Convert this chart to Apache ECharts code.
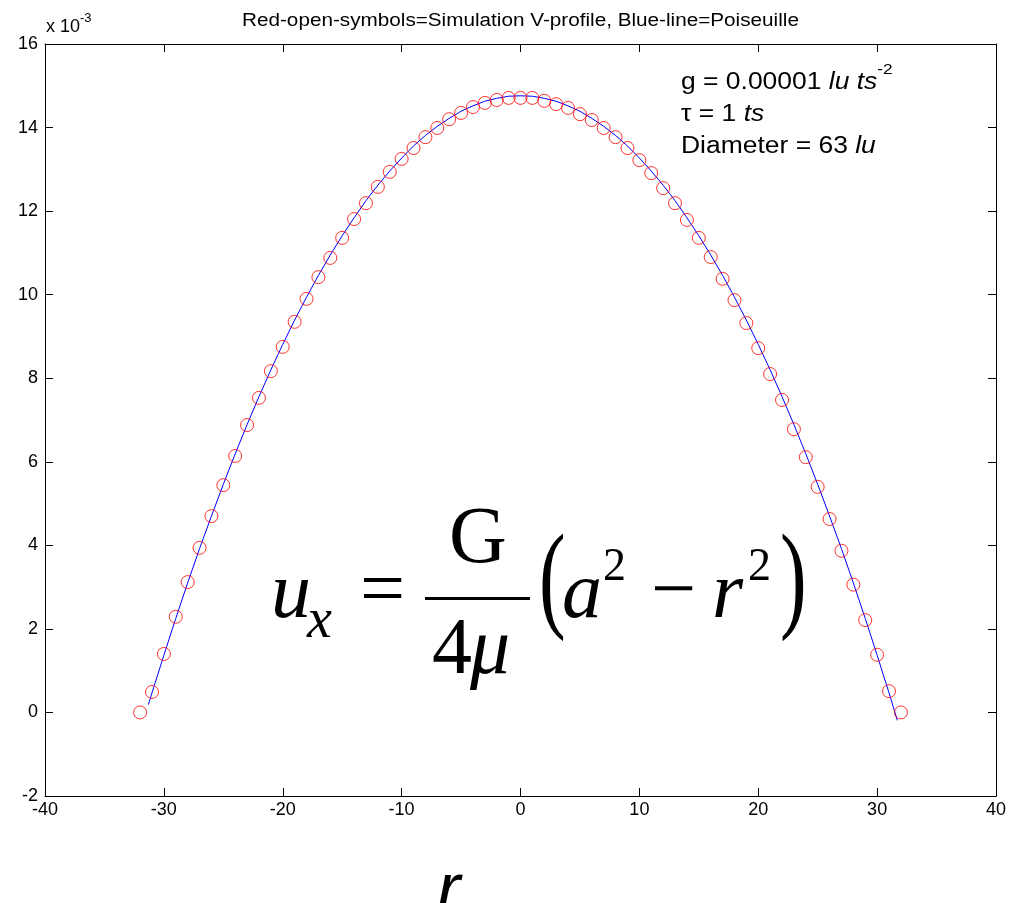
<!DOCTYPE html>
<html>
<head>
<meta charset="utf-8">
<script src="https://cdn.jsdelivr.net/npm/echarts@6/dist/echarts.min.js"></script>
<style>
  html, body { margin: 0; padding: 0; background: #fff; }
  #chart { width: 1027px; height: 903px; }
</style>
</head>
<body>
<div id="chart"></div>
<script>
// Simulated velocity profile across the channel (u_x in units of 1e-3 lu/ts)
const simR = [-32,-31,-30,-29,-28,-27,-26,-25,-24,-23,-22,-21,-20,-19,-18,-17,-16,-15,-14,-13,-12,-11,-10,-9,-8,-7,-6,-5,-4,-3,-2,-1,
              0,1,2,3,4,5,6,7,8,9,10,11,12,13,14,15,16,17,18,19,20,21,22,23,24,25,26,27,28,29,30,31,32];
const simU = [0.00,0.49,1.40,2.29,3.12,3.94,4.70,5.44,6.14,6.88,7.53,8.17,8.75,9.35,9.90,10.42,10.88,11.36,11.81,12.19,12.58,12.94,13.25,13.51,13.77,13.99,14.20,14.35,14.49,14.59,14.66,14.71,
              14.71,14.71,14.64,14.56,14.47,14.32,14.18,13.99,13.77,13.51,13.22,12.91,12.55,12.19,11.79,11.36,10.90,10.38,9.87,9.32,8.72,8.10,7.48,6.78,6.11,5.40,4.63,3.87,3.06,2.21,1.38,0.51,0.00];

// Analytical Poiseuille profile
const poisR = [-31.3,-31,-30,-29,-28,-27,-26,-25,-24,-23,-22,-21,-20,-19,-18,-17,-16,-15,-14,-13,-12,-11,-10,-9,-8,-7,-6,-5,-4,-3,-2,-1,
               0,1,2,3,4,5,6,7,8,9,10,11,12,13,14,15,16,17,18,19,20,21,22,23,24,25,26,27,28,29,30,31,31.7];
const poisU = [0.19,0.47,1.37,2.25,3.10,3.92,4.70,5.46,6.19,6.89,7.56,8.20,8.81,9.39,9.94,10.46,10.95,11.41,11.84,12.25,12.62,12.96,13.27,13.56,13.81,14.03,14.22,14.39,14.52,14.63,14.70,14.75,
               14.76,14.75,14.70,14.63,14.52,14.39,14.22,14.03,13.81,13.56,13.27,12.96,12.62,12.25,11.84,11.41,10.95,10.46,9.94,9.39,8.81,8.20,7.56,6.89,6.19,5.46,4.70,3.92,3.10,2.25,1.37,0.47,-0.19];

const xTicks = { min: -40, max: 40, interval: 10 };
const yTicks = { min: -2, max: 16, interval: 2 };

const titleText = 'Red-open-symbols=Simulation V-profile, Blue-line=Poiseuille';

const sans = "'Liberation Sans', Arial, sans-serif";
const serif = "'Liberation Serif', 'Times New Roman', serif";

const simData = simR.map((r, i) => [r, simU[i]]);
const poisData = poisR.map((r, i) => [r, poisU[i]]);

const chart = echarts.init(document.getElementById('chart'), null, { renderer: 'canvas' });

const frameAxis = {
  axisLine: { show: true, onZero: false, lineStyle: { color: '#000', width: 1 } },
  axisTick: { show: true, inside: true, length: 8, lineStyle: { color: '#000', width: 1 } },
  splitLine: { show: false }
};

// One glyph (or run) of the equation, positioned by its top-left corner
function eq(text, x, y, size, italic, sx, sy) {
  return {
    type: 'text', x: x, y: y, z: 10, scaleX: sx || 1, scaleY: sy || 1,
    style: { text: text, font: (italic ? 'italic ' : '') + size + 'px ' + serif, fill: '#000',
             align: 'left', verticalAlign: 'top' }
  };
}

const option = {
  animation: false,
  backgroundColor: '#fff',
  grid: { left: 45, right: 31, top: 44, bottom: 107, containLabel: false },
  xAxis: [
    Object.assign({
      type: 'value', position: 'bottom', min: xTicks.min, max: xTicks.max, interval: xTicks.interval,
      axisLabel: { color: '#000', fontSize: 18, fontFamily: sans, margin: 5 }
    }, frameAxis),
    Object.assign({
      type: 'value', position: 'top', min: xTicks.min, max: xTicks.max, interval: xTicks.interval,
      axisLabel: { show: false }
    }, frameAxis)
  ],
  yAxis: [
    Object.assign({
      type: 'value', position: 'left', min: yTicks.min, max: yTicks.max, interval: yTicks.interval,
      axisLabel: { color: '#000', fontSize: 18, fontFamily: sans, margin: 7 }
    }, frameAxis),
    Object.assign({
      type: 'value', position: 'right', min: yTicks.min, max: yTicks.max, interval: yTicks.interval,
      axisLabel: { show: false }
    }, frameAxis)
  ],
  series: [
    {
      name: 'Poiseuille', type: 'line', data: poisData, showSymbol: false,
      lineStyle: { color: '#0000ff', width: 1 }, z: 3
    },
    {
      name: 'Simulation', type: 'scatter', data: simData, symbol: 'circle', symbolSize: 13,
      itemStyle: { color: 'rgba(0,0,0,0)', borderColor: '#ff0000', borderWidth: 1 }, z: 4
    }
  ],
  graphic: [
    // title
    { type: 'text', x: 242, y: 12, scaleX: 1.15,
      style: { text: titleText, font: '18px ' + sans, fill: '#000', align: 'left', verticalAlign: 'top' } },
    // axis exponent
    { type: 'text', x: 46, y: 12,
      style: { text: '{n|x 10}{s|-3}', fill: '#000', align: 'left', verticalAlign: 'top',
        rich: { n: { font: '18px ' + sans, lineHeight: 24, verticalAlign: 'bottom' },
                s: { font: '13px ' + sans, lineHeight: 24, verticalAlign: 'top' } } } },
    // parameter box
    { type: 'text', x: 681, y: 62, scaleX: 1.15,
      style: {
        text: '{n|g = 0.00001 }{i|lu ts}{s|-2}\n{n|\u03c4 = 1 }{i|ts}\n{n|Diameter = 63 }{i|lu}',
        fill: '#000', align: 'left', verticalAlign: 'top',
        rich: {
          n: { font: '23px ' + sans, lineHeight: 32, verticalAlign: 'bottom' },
          i: { font: 'italic 23px ' + sans, lineHeight: 32, verticalAlign: 'bottom' },
          s: { font: '15px ' + sans, lineHeight: 32, verticalAlign: 'top' }
        }
      } },
    // equation u_x = G/(4 mu) (a^2 - r^2)
    eq('u', 271, 556, 80, true),
    eq('x', 307, 594, 56, true),
    eq('=', 360, 554, 80, false),
    eq('G', 449, 501, 80, false),
    { type: 'rect', z: 10, shape: { x: 425, y: 597, width: 105, height: 3 }, style: { fill: '#000' } },
    eq('4', 432, 612, 80, false),
    eq('\u03bc', 470, 612, 80, true),
    eq('(', 539, 526, 80, false, 1, 1.47),
    eq('a', 562, 556, 80, true),
    eq('2', 603, 545, 46, false),
    eq('\u2212', 651, 554, 80, false),
    eq('r', 712, 556, 80, true),
    eq('2', 748, 545, 46, false),
    eq(')', 780, 526, 80, false, 1, 1.47),
    // x-axis variable
    { type: 'text', x: 437, y: 858,
      style: { text: 'r', font: 'italic 70px ' + sans, fill: '#000', align: 'left', verticalAlign: 'top' } }
  ]
};

chart.setOption(option);
</script>
</body>
</html>
